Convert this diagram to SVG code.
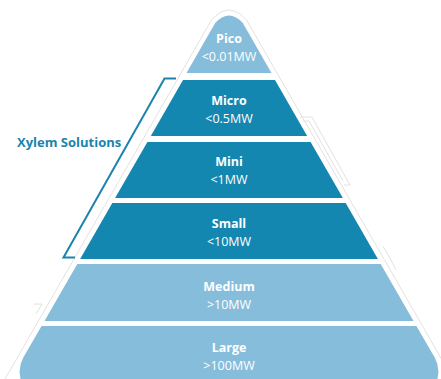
<svg xmlns="http://www.w3.org/2000/svg" width="441" height="379" viewBox="0 0 441 379">
<style>
.light{fill:#86bddb}
.dark{fill:#1487b0}
.ghost{fill:none;stroke:#e2e2e2;stroke-width:1}
.t{font-family:"Open Sans","Liberation Sans",sans-serif;font-size:12.5px;fill:#ffffff;text-anchor:middle}
.b{font-weight:bold}
.side{font-family:"Open Sans","Liberation Sans",sans-serif;font-size:13px;font-weight:bold;fill:#1a84ae}
</style>
<rect width="441" height="379" fill="#ffffff"/>
<g id="ghost-outline">
<path class="ghost" d="M5,379 L211.5,20 Q229,0 246.5,20 L453,379"/>
<polyline class="ghost" points="300,117 312,117 350,185 344,185"/>
<polyline class="ghost" points="303,121 309,121 343,181"/>
<polyline class="ghost" points="383,246 392,262 396,270"/>
<polyline class="ghost" points="34,304 42,304 36,314"/>
</g>
<g id="pico">
<path class="light" d="M186.5,73 L215.2,23 Q229,8 242.8,23 L271.5,73 Z"/>
<text class="t b" x="229" y="43">Pico</text>
<text class="t" x="229" y="61">&lt;0.01MW</text>
</g>
<g id="micro">
<polygon class="dark" points="183,80 275,80 307.2,136 150.8,136"/>
<text class="t b" x="229" y="105">Micro</text>
<text class="t" x="229" y="123">&lt;0.5MW</text>
</g>
<g id="mini">
<polygon class="dark" points="147.4,142 310.6,142 342.9,198 115.1,198"/>
<text class="t b" x="229" y="166">Mini</text>
<text class="t" x="229" y="184">&lt;1MW</text>
</g>
<g id="small">
<polygon class="dark" points="112.3,203 345.7,203 377.9,259 80.1,259"/>
<text class="t b" x="229" y="228">Small</text>
<text class="t" x="229" y="246">&lt;10MW</text>
</g>
<g id="medium">
<polygon class="light" points="77.3,264 380.7,264 413.5,321 44.5,321"/>
<text class="t b" x="229" y="291">Medium</text>
<text class="t" x="229" y="309">&gt;10MW</text>
</g>
<g id="large">
<path class="light" d="M41.6,326 L416.4,326 L435,358 Q443,373 432,392 L26,392 Q15,373 23,358 Z"/>
<text class="t b" x="229" y="352">Large</text>
<text class="t" x="229" y="370">&gt;100MW</text>
</g>
<g id="connectors">
<polyline points="176,78.5 164.5,78.5 63.5,257.5 75,257.5" fill="none" stroke="#1a84ae" stroke-width="2"/>
</g>
<g id="xylem-solutions">
<text class="side" x="17" y="147">Xylem Solutions</text>
</g>
</svg>
